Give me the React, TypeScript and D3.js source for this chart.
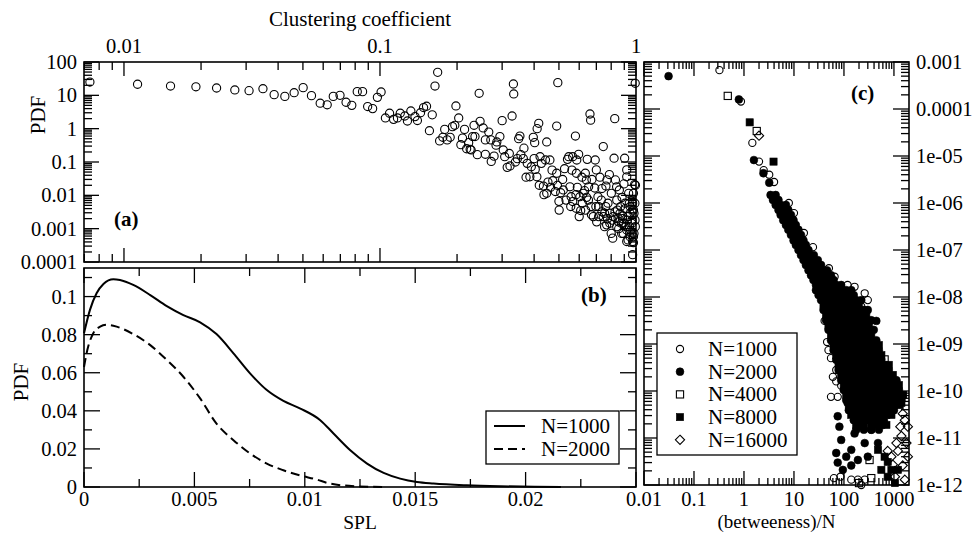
import React from 'react';
import * as d3 from 'd3';

const W = 978;
const H = 534;
const FONT = '"Liberation Serif", "Times New Roman", serif';

// ---------- Panel (a): PDF of clustering coefficient ----------
const clusterPoints: [number, number][] = [
  [0.00736, 25], [0.0113, 21.5], [0.0152, 19], [0.0191, 18], [0.023, 16.6], [0.0271, 14.5], [0.0308, 13.8],
  [0.0349, 15.8], [0.0386, 10.5], [0.0425, 9.3], [0.0462, 12], [0.0501, 17], [0.054, 9.8],
  [0.0584, 5.8], [0.0622, 5.2], [0.0657, 9.3], [0.0698, 10], [0.0737, 6.2], [0.0776, 5], [0.0815, 12.9],
  [0.0855, 12.9], [0.0895, 4.6], [0.0936, 4], [0.0977, 8.7], [0.101, 12.6], [0.105, 2.1], [0.109, 2.9],
  [0.113, 1.9], [0.117, 2.1], [0.12, 2.9], [0.125, 2.4], [0.128, 1.7], [0.132, 3.4], [0.137, 2.3], [0.14, 1.75],
  [0.144, 3], [0.148, 4.3], [0.152, 4.7], [0.16, 2.6], [0.156, 0.87], [0.164, 19], [0.168, 49], [0.171, 0.43],
  [0.176, 0.55], [0.179, 0.95], [0.183, 0.46], [0.188, 0.55], [0.192, 1.15], [0.196, 1.26], [0.198, 4.8],
  [0.203, 2.1], [0.207, 0.33], [0.21, 0.52], [0.214, 0.95], [0.218, 0.25], [0.222, 0.38], [0.227, 0.23],
  [0.23, 0.58], [0.233, 1.26], [0.24, 0.166], [0.244, 11.5],
  [0.332, 21.9], [0.333, 11], [0.495, 24], [0.993, 23], [0.246, 1.66], [0.253, 1.05], [0.235, 0.58],
  [0.225, 0.24], [0.258, 0.46], [0.266, 0.79], [0.271, 0.46], [0.258, 0.17], [0.272, 0.104], [0.279, 0.15],
  [0.284, 0.32], [0.286, 0.4], [0.294, 0.58], [0.3, 1.74], [0.303, 0.23], [0.307, 0.144], [0.314, 0.069],
  [0.32, 0.18], [0.322, 0.076], [0.328, 2.4], [0.338, 0.1], [0.344, 0.126], [0.348, 0.5], [0.352, 0.6],
  [0.355, 0.166], [0.363, 0.126], [0.365, 0.26], [0.372, 0.035], [0.376, 0.091], [0.385, 0.036], [0.39, 0.072],
  [0.397, 0.55], [0.4, 0.126], [0.402, 0.38], [0.404, 0.06], [0.411, 1.0], [0.417, 1.45], [0.422, 0.144],
  [0.427, 0.091], [0.419, 0.02], [0.435, 0.019], [0.437, 0.0105], [0.443, 0.115], [0.448, 0.4], [0.453, 0.025],
  [0.461, 0.115], [0.464, 0.0174], [0.47, 0.057], [0.473, 0.0275], [0.484, 0.013], [0.49, 1.2], [0.493, 0.02],
  [0.5, 0.0066], [0.501, 0.0036], [0.508, 0.012], [0.517, 0.03], [0.526, 0.063], [0.533, 0.0072], [0.54, 0.12],
  [0.546, 0.144], [0.552, 0.018], [0.556, 0.0046], [0.562, 0.057], [0.566, 0.144], [0.58, 0.6], [0.583, 0.0105],
  [0.587, 0.115], [0.59, 0.0174], [0.597, 0.17], [0.604, 0.0091], [0.608, 0.0035], [0.615, 0.035], [0.622, 0.0115],
  [0.63, 0.0138], [0.634, 0.046], [0.641, 0.0087], [0.645, 0.12], [0.653, 0.018], [0.661, 2.75], [0.665, 1.8],
  [0.668, 0.0046], [0.673, 0.03], [0.681, 0.0023], [0.69, 0.0166], [0.693, 0.115], [0.702, 0.0016], [0.71, 0.0091],
  [0.715, 0.0046], [0.723, 0.035], [0.732, 0.0072], [0.736, 0.016], [0.745, 0.29], [0.754, 0.0029], [0.763, 0.019],
  [0.768, 0.0013], [0.777, 0.0058], [0.787, 0.042], [0.791, 0.0029], [0.801, 0.0115], [0.806, 0.0018],
  [0.811, 0.00052], [0.821, 0.13], [0.826, 2.0], [0.831, 0.029], [0.841, 0.0072], [0.846, 0.0036], [0.851, 0.0021],
  [0.856, 0.001], [0.861, 0.0145], [0.871, 0.0046], [0.877, 0.00145], [0.882, 0.0087], [0.887, 0.0024],
  [0.892, 0.00072], [0.897, 0.022], [0.903, 0.13], [0.908, 0.004], [0.914, 0.00115], [0.92, 0.036], [0.925, 0.0018],
  [0.931, 0.00046], [0.936, 0.0115], [0.942, 0.0058], [0.948, 0.0029], [0.953, 0.0009], [0.964, 0.0018],
  [0.97, 0.0058], [0.977, 0.00057], [0.982, 0.0029], [0.988, 0.021], [0.994, 0.00115], [0.97, 0.000166],
  [0.977, 0.00038], [0.948, 0.0046], [0.995, 0.02], [0.99, 0.0058],
  [0.745, 0.0023], [0.762, 0.0046], [0.79, 0.00145], [0.815, 0.0023], [0.841, 0.00115], [0.866, 0.0029],
  [0.879, 0.00072], [0.891, 0.00145], [0.906, 0.0058], [0.92, 0.00091], [0.933, 0.0023], [0.948, 0.00057],
  [0.962, 0.00145], [0.977, 0.0036], [0.982, 0.00072], [0.991, 0.0018], [0.92, 0.00041], [0.971, 0.00041],
  [0.943, 0.00115], [0.886, 0.002], [0.855, 0.0016], [0.828, 0.0032], [0.8, 0.00072], [0.774, 0.002],
  [0.754, 0.00115], [0.736, 0.0032], [0.715, 0.0023], [0.697, 0.0046], [0.67, 0.0026], [0.652, 0.0072],
  [0.635, 0.0036], [0.617, 0.0058], [0.6, 0.0023], [0.584, 0.0041], [0.566, 0.0065], [0.558, 0.0091],
  [0.49, 0.046], [0.52, 0.0145], [0.585, 0.046], [0.64, 0.029], [0.7, 0.058], [0.77, 0.029], [0.84, 0.018],
  [0.92, 0.058], [0.977, 0.0115], [0.448, 0.0115], [0.41, 0.036],
];
const clusterTicks = [0.01, 0.1, 1];
const clusterTickLabels = ['0.01', '0.1', '1'];
const pdfLogTicks = [100, 10, 1, 0.1, 0.01, 0.001, 0.0001];
const pdfLogLabels = ['100', '10', '1', '0.1', '0.01', '0.001', '0.0001'];

// ---------- Panel (b): PDF of SPL ----------
const splN1000: [number, number][] = [
  [0, 0.0807], [0.00027, 0.093], [0.00057, 0.1017], [0.00088, 0.1066], [0.00133, 0.1091], [0.00163, 0.1087],
  [0.00223, 0.1061], [0.003, 0.1008], [0.00375, 0.095], [0.0045, 0.0903], [0.00526, 0.0865], [0.006, 0.0803],
  [0.00677, 0.0702], [0.00752, 0.0597], [0.00828, 0.0509], [0.00903, 0.0452], [0.0098, 0.0412], [0.0107, 0.0351],
  [0.0113, 0.0281], [0.01206, 0.0193], [0.01282, 0.0123], [0.01357, 0.0074], [0.01432, 0.0044], [0.01508, 0.0026],
  [0.01583, 0.0018], [0.01734, 0.0009], [0.01886, 0.0004], [0.0204, 0.0001], [0.0216, 0],
];
const splN2000: [number, number][] = [
  [0, 0.063], [0.00015, 0.0719], [0.00042, 0.0807], [0.00073, 0.0842], [0.00103, 0.0852], [0.00148, 0.0842],
  [0.00223, 0.0803], [0.003, 0.0745], [0.00375, 0.0667], [0.0045, 0.0579], [0.00526, 0.0465], [0.006, 0.0333],
  [0.00677, 0.0246], [0.00752, 0.0176], [0.00828, 0.0123], [0.00903, 0.0088], [0.0098, 0.006], [0.01055, 0.0039],
  [0.011, 0.0022], [0.012, 0.0006], [0.0135, 0],
];
const splTicks = [0, 0.005, 0.01, 0.015, 0.02];
const splTickLabels = ['0', '0.005', '0.01', '0.015', '0.02'];
const pdfLinTicks = [0, 0.02, 0.04, 0.06, 0.08, 0.1];
const pdfLinLabels = ['0', '0.02', '0.04', '0.06', '0.08', '0.1'];

// ---------- Panel (c): PDF of betweenness/N ----------
const betTicks = [0.01, 0.1, 1, 10, 100, 1000];
const betTickLabels = ['0.01', '0.1', '1', '10', '100', '1000'];
const betPdfTicks = [1e-3, 1e-4, 1e-5, 1e-6, 1e-7, 1e-8, 1e-9, 1e-10, 1e-11, 1e-12];
const betPdfLabels = ['0.001', '0.0001', '1e-05', '1e-06', '1e-07', '1e-08', '1e-09', '1e-10', '1e-11', '1e-12'];

const betN1000: [number, number][] = [
  [0.323, 6.7e-4], [0.87, 1.44e-4], [1.47, 1.9e-5], [2.0, 7.6e-6], [3.2, 4e-6], [4.0, 2.8e-6], [2.48, 5e-6],
  [7.9, 1e-6], [10, 6.1e-7], [15.8, 2.3e-7], [24, 1.15e-7], [50, 4.1e-8], [65, 2.7e-8], [118, 1.8e-8],
  [163, 1.65e-8], [260, 1.2e-8], [300, 8.6e-9], [222, 6.3e-9], [240, 3.9e-9], [41, 3.1e-9], [46, 1.1e-9],
  [49, 7.4e-10], [55, 5e-10], [60, 2e-10], [70, 1.6e-10], [55, 7.5e-11], [75, 7.5e-11], [88, 1.3e-10],
  [70, 2.8e-10], [111, 1.34e-10], [63, 1.4e-12], [85, 1.5e-12], [140, 1.3e-12], [222, 1e-12], [260, 1.3e-12],
  [190, 1.3e-12],
];
// rows of the dense band: [pdf, betweenness/N values]
const betN2000Rows: [number, number[]][] = [
  [1.48e-6, [3.4, 4.3]], [1.16e-6, [3.8, 4.9]], [9.1e-7, [4.3, 5.4, 6.9]], [7.1e-7, [4.9, 6.1, 7.7]],
  [5.6e-7, [5.4, 6.9, 8.7]], [4.3e-7, [6.1, 7.7, 9.8]], [3.4e-7, [6.9, 8.7, 10.9]], [2.7e-7, [7.7, 9.8, 12.3]],
  [2.1e-7, [8.7, 10.9, 13.8]], [1.6e-7, [9.8, 12.3, 15.5]], [1.28e-7, [10.9, 13.8, 17.3]], [1e-7, [12.3, 15.5, 19.5]],
  [7.8e-8, [13.8, 17.3, 21.9, 25]], [6.1e-8, [15.5, 19.5, 24.5, 30]], [4.8e-8, [17.3, 21.9, 27.5, 34.8]],
  [3.7e-8, [19.5, 24.5, 31, 39, 46]], [2.9e-8, [21.9, 27.5, 34.8, 43.8, 55]], [2.3e-8, [24.5, 31, 39, 49, 62]],
  [1.8e-8, [27.5, 34.8, 43.8, 55, 70, 88]], [1.4e-8, [27.5, 34.8, 43.8, 55, 70, 88, 111, 140]],
  [1.1e-8, [31, 39, 49, 62, 78, 99, 125, 157]], [8.6e-9, [34.8, 43.8, 55, 70, 88, 111, 140, 176, 222]],
  [5.3e-9, [39, 49, 62, 78, 99, 125, 157, 198, 250, 300]], [3.2e-9, [43.8, 55, 70, 88, 111, 140, 176, 222, 280, 352]],
  [2e-9, [49, 62, 78, 99, 125, 157, 198, 250, 315, 395]], [1.2e-9, [55, 70, 88, 111, 140, 176, 222, 280, 352, 444]],
  [7.4e-10, [62, 78, 99, 125, 157, 198, 250, 315, 395, 500]],
  [4.6e-10, [70, 88, 111, 140, 176, 222, 280, 352, 444, 560]],
  [2.8e-10, [78, 99, 125, 157, 198, 250, 315, 395, 500, 630, 790]],
  [1.7e-10, [88, 111, 140, 176, 222, 280, 352, 444, 560, 706, 890, 1120]],
  [1.05e-10, [99, 125, 157, 198, 250, 315, 395, 500, 630, 790, 1000, 1260]],
  [6.4e-11, [111, 140, 176, 222, 280, 352, 444, 560, 706, 890, 1120, 1410]],
  [3.9e-11, [125, 157, 198, 250, 315, 395, 500, 630, 790, 1000]],
  [2.4e-11, [157, 198, 250, 315, 395, 500, 630]], [1.5e-11, [176, 250, 352, 500]],
];
const betN2000Extra: [number, number][] = [
  [81, 1.74e-11], [88, 9.1e-12], [70, 4.8e-12], [75, 3e-12], [111, 4e-12], [140, 5.6e-12], [163, 1.25e-11],
  [222, 1.9e-11], [260, 7.8e-12], [190, 3.4e-12], [352, 1.5e-11], [480, 7.8e-12], [300, 4e-12], [118, 5.6e-11],
  [163, 3.9e-11], [75, 2.9e-11], [95, 2.1e-12], [140, 2.6e-12], [444, 3.1e-9], [0.031, 5e-4], [0.79, 1.6e-4],
  [1.58, 8.2e-6], [2.45, 4.3e-6], [3.2, 2.7e-6],
];
const betN4000: [number, number][] = [
  [0.474, 1.9e-4], [1.8, 3.4e-5], [3.9, 1.35e-6], [650, 4.7e-10], [480, 5e-10], [706, 3.3e-10], [325, 3.4e-12],
  [352, 1.4e-12], [200, 1.1e-12],
];
const betN8000Rows: [number, number[]][] = [
  [6.8e-9, [39, 49, 62, 78, 99, 125, 157, 198]], [4.1e-9, [43.8, 55, 70, 88, 111, 140, 176, 222, 280]],
  [2.5e-9, [49, 62, 78, 99, 125, 157, 198, 250, 315]], [1.55e-9, [55, 70, 88, 111, 140, 176, 222, 280, 352]],
  [9.5e-10, [62, 78, 99, 125, 157, 198, 250, 315, 395, 500]],
  [5.8e-10, [70, 88, 111, 140, 176, 222, 280, 352, 444, 560]],
  [3.6e-10, [78, 99, 125, 157, 198, 250, 315, 395, 500, 630, 790]],
  [2.2e-10, [88, 111, 140, 176, 222, 280, 352, 444, 560, 706, 950]],
  [1.34e-10, [99, 125, 157, 198, 250, 315, 395, 500, 630, 790, 1000, 1260]],
  [8.2e-11, [111, 140, 176, 222, 280, 352, 444, 560, 706, 890, 1120, 1500]],
  [5e-11, [125, 157, 198, 250, 315, 395, 500, 630, 790, 1000, 1300]],
  [3.1e-11, [140, 176, 222, 280, 352, 444, 560, 706, 890]], [1.9e-11, [176, 250, 352, 444, 560, 706]],
];
const betN8000Extra: [number, number][] = [
  [1.3, 5.2e-5], [3.9, 7.6e-6], [1120, 1.45e-10], [1500, 8.2e-11], [1410, 5.6e-11], [1050, 1.05e-10],
  [750, 3.1e-12], [890, 2.1e-12], [560, 2.1e-12], [1050, 1.1e-12], [480, 5.6e-12], [650, 4e-12], [1200, 2.1e-12],
  [750, 1.5e-12],
];
const betN16000: [number, number][] = [
  [2.0, 2.7e-5], [1500, 3.3e-11], [1650, 2.4e-11], [1410, 1.1e-11], [1780, 7.8e-12], [1200, 5.3e-12], [890, 4e-12],
  [1500, 2.6e-12], [1650, 1.3e-12], [1050, 1.5e-12], [1900, 1.74e-11], [1340, 1.74e-11], [1120, 7.8e-12],
  [750, 5.3e-12], [1900, 4e-12], [950, 2.7e-12],
];
const betLegend = ['N=1000', 'N=2000', 'N=4000', 'N=8000', 'N=16000'];
const splLegend = ['N=1000', 'N=2000'];

// ---------- helpers ----------
const rowsToPoints = (rows: [number, number[]][]): [number, number][] =>
  rows.flatMap(([y, xs]) => xs.map((x) => [x, y] as [number, number]));

function logMinor(lo: number, hi: number): number[] {
  const out: number[] = [];
  for (let e = Math.floor(Math.log10(lo)) - 1; e <= Math.ceil(Math.log10(hi)); e++) {
    for (let k = 2; k <= 9; k++) {
      const v = k * Math.pow(10, e);
      if (v > lo * 1.0001 && v < hi * 0.9999) out.push(v);
    }
  }
  return out;
}

type Box = { l: number; r: number; t: number; b: number };
const A: Box = { l: 84, r: 636, t: 62, b: 262 };
const B: Box = { l: 84, r: 636, t: 268, b: 487 };
const C: Box = { l: 644, r: 909, t: 62, b: 485 };

const TICK_FS = 20.5;
const LABEL_FS = 21;
const X_TICK_Y = 506;

function Frame({ box, xMajor, xMinor, yMajor, yMinor, xs, ys, xLen = [14, 8], yLen = [15, 8] }: {
  box: Box; xMajor: number[]; xMinor: number[]; yMajor: number[]; yMinor: number[];
  xs: (v: number) => number; ys: (v: number) => number; xLen?: number[]; yLen?: number[];
}) {
  const lines: React.ReactElement[] = [];
  const add = (x1: number, y1: number, x2: number, y2: number, k: string) =>
    lines.push(<line key={k} x1={x1} y1={y1} x2={x2} y2={y2} />);
  xMajor.forEach((v, i) => {
    const x = xs(v);
    add(x, box.b, x, box.b - xLen[0], 'xb' + i);
    add(x, box.t, x, box.t + xLen[0], 'xt' + i);
  });
  xMinor.forEach((v, i) => {
    const x = xs(v);
    add(x, box.b, x, box.b - xLen[1], 'xbm' + i);
    add(x, box.t, x, box.t + xLen[1], 'xtm' + i);
  });
  yMajor.forEach((v, i) => {
    const y = ys(v);
    add(box.l, y, box.l + yLen[0], y, 'yl' + i);
    add(box.r, y, box.r - yLen[0], y, 'yr' + i);
  });
  yMinor.forEach((v, i) => {
    const y = ys(v);
    add(box.l, y, box.l + yLen[1], y, 'ylm' + i);
    add(box.r, y, box.r - yLen[1], y, 'yrm' + i);
  });
  return (
    <g stroke="#000" strokeWidth={1.3} fill="none">
      {lines}
      <rect x={box.l} y={box.t} width={box.r - box.l} height={box.b - box.t} strokeWidth={1.6} />
    </g>
  );
}

function Marker({ kind, x, y }: { kind: string; x: number; y: number }) {
  const s = 3.6;
  if (kind === 'oc') return <circle cx={x} cy={y} r={s} fill="none" stroke="#000" strokeWidth={1.1} />;
  if (kind === 'fc') return <circle cx={x} cy={y} r={s + 0.3} fill="#000" stroke="#000" strokeWidth={0.6} />;
  if (kind === 'os') return <rect x={x - s} y={y - s} width={2 * s} height={2 * s} fill="none" stroke="#000" strokeWidth={1.1} />;
  if (kind === 'fs') return <rect x={x - s} y={y - s} width={2 * s} height={2 * s} fill="#000" stroke="#000" strokeWidth={0.6} />;
  const d = s + 1;
  return <path d={`M${x},${y - d}L${x + d},${y}L${x},${y + d}L${x - d},${y}Z`} fill="none" stroke="#000" strokeWidth={1.1} />;
}

export default function App() {
  // scales
  const xa = d3.scaleLog().domain([0.00698, 1]).range([A.l, A.r]);
  const ya = d3.scaleLog().domain([1e-4, 100]).range([A.b, A.t]);
  const xb = d3.scaleLinear().domain([0, 0.025]).range([B.l, B.r]);
  const yb = d3.scaleLinear().domain([0, 0.115]).range([B.b, B.t]);
  const xc = d3.scaleLog().domain([0.01, 2000]).range([C.l, C.r]);
  const yc = d3.scaleLog().domain([1e-12, 1e-3]).range([C.b, C.t]);

  const lineB = d3.line<[number, number]>().x((d) => xb(d[0])).y((d) => yb(d[1])).curve(d3.curveMonotoneX);

  const xbMinor = d3.range(0.0025, 0.025, 0.005);
  const ybMinor = d3.range(0.01, 0.115, 0.02);

  const seriesC: { kind: string; pts: [number, number][] }[] = [
    { kind: 'oc', pts: betN1000 },
    { kind: 'fc', pts: [...rowsToPoints(betN2000Rows), ...betN2000Extra] },
    { kind: 'os', pts: betN4000 },
    { kind: 'fs', pts: [...rowsToPoints(betN8000Rows), ...betN8000Extra] },
    { kind: 'od', pts: betN16000 },
  ];
  const legendKinds = ['oc', 'fc', 'os', 'fs', 'od'];

  return (
    <svg width={W} height={H} style={{ position: 'absolute', left: 0, top: 0, background: '#fff' }}
      fontFamily={FONT}>
      <rect x={0} y={0} width={W} height={H} fill="#fff" />

      {/* ----- Panel (a) ----- */}
      <g>
        {clusterPoints.map((p, i) => (
          <circle key={i} cx={xa(p[0])} cy={ya(p[1])} r={4.1} fill="none" stroke="#000" strokeWidth={1.1} />
        ))}
      </g>
      <Frame box={A} xs={xa} ys={ya} xMajor={clusterTicks} xMinor={logMinor(0.00698, 1)}
        yMajor={pdfLogTicks} yMinor={logMinor(1e-4, 100)} />
      {clusterTicks.map((v, i) => (
        <text key={i} x={xa(v)} y={53} fontSize={TICK_FS} textAnchor="middle">{clusterTickLabels[i]}</text>
      ))}
      {pdfLogTicks.map((v, i) => (
        <text key={i} x={77} y={ya(v) + 7} fontSize={TICK_FS} textAnchor="end">{pdfLogLabels[i]}</text>
      ))}
      <text x={(A.l + A.r) / 2} y={26} fontSize={LABEL_FS} textAnchor="middle">Clustering coefficient</text>
      <text transform="translate(45,115) rotate(-90)" fontSize={LABEL_FS} textAnchor="middle">PDF</text>
      <text x={114} y={226} fontSize={21} fontWeight="bold">(a)</text>

      {/* ----- Panel (b) ----- */}
      <path d={lineB(splN1000) || ''} fill="none" stroke="#000" strokeWidth={2} />
      <path d={lineB(splN2000) || ''} fill="none" stroke="#000" strokeWidth={2} strokeDasharray="9,5" />
      <Frame box={B} xs={xb} ys={yb} xMajor={[...splTicks, 0.025]} xMinor={xbMinor}
        yMajor={pdfLinTicks} yMinor={ybMinor} xLen={[15, 8]} yLen={[16, 8]} />
      {splTicks.map((v, i) => (
        <text key={i} x={xb(v)} y={X_TICK_Y} fontSize={TICK_FS} textAnchor="middle">{splTickLabels[i]}</text>
      ))}
      {pdfLinTicks.map((v, i) => (
        <text key={i} x={77} y={yb(v) + 7} fontSize={TICK_FS} textAnchor="end">{pdfLinLabels[i]}</text>
      ))}
      <text x={(B.l + B.r) / 2} y={529} fontSize={19.5} textAnchor="middle">SPL</text>
      <text transform="translate(28,382) rotate(-90)" fontSize={LABEL_FS} textAnchor="middle">PDF</text>
      <text x={581} y={302} fontSize={21} fontWeight="bold">(b)</text>
      <g>
        <rect x={486} y={411} width={133} height={53} fill="#fff" stroke="#000" strokeWidth={1.3} />
        {splLegend.map((s, i) => (
          <g key={i}>
            <line x1={494} x2={525} y1={426 + i * 23} y2={426 + i * 23} stroke="#000" strokeWidth={2}
              strokeDasharray={i === 1 ? '9,5' : undefined} />
            <text x={541} y={433 + i * 23} fontSize={LABEL_FS}>{s}</text>
          </g>
        ))}
      </g>

      {/* ----- Panel (c) ----- */}
      {seriesC.map((s, si) => (
        <g key={si}>
          {s.pts.map((p, i) => <Marker key={i} kind={s.kind} x={xc(p[0])} y={yc(p[1])} />)}
        </g>
      ))}
      <Frame box={C} xs={xc} ys={yc} xMajor={betTicks} xMinor={logMinor(0.01, 2000)}
        yMajor={betPdfTicks} yMinor={logMinor(1e-12, 1e-3)} xLen={[14, 7]} yLen={[16, 8]} />
      {betTicks.map((v, i) => (
        <text key={i} x={xc(v)} y={X_TICK_Y} fontSize={TICK_FS} textAnchor="middle">{betTickLabels[i]}</text>
      ))}
      {betPdfTicks.map((v, i) => (
        <text key={i} x={916} y={yc(v) + 7} fontSize={TICK_FS} textAnchor="start">{betPdfLabels[i]}</text>
      ))}
      <text x={(C.l + C.r) / 2} y={528} fontSize={19} textAnchor="middle">(betweeness)/N</text>
      <text x={851} y={100} fontSize={21} fontWeight="bold">(c)</text>
      <g>
        <rect x={657} y={333} width={140} height={122} fill="#fff" stroke="#000" strokeWidth={1.3} />
        {betLegend.map((s, i) => (
          <g key={i}>
            <Marker kind={legendKinds[i]} x={680} y={349 + i * 22.7} />
            <text x={708} y={356 + i * 22.7} fontSize={LABEL_FS}>{s}</text>
          </g>
        ))}
      </g>
    </svg>
  );
}
